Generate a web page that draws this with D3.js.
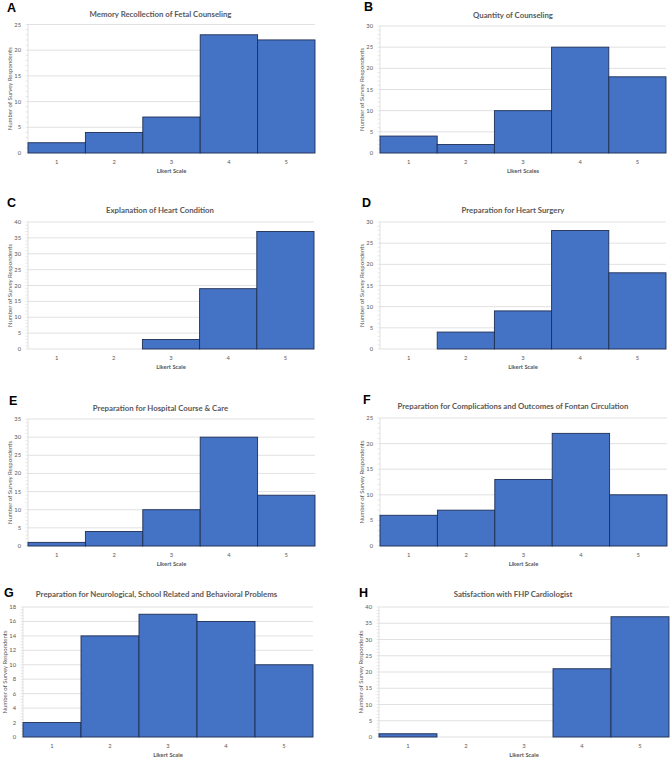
<!DOCTYPE html>
<html>
<head>
<meta charset="utf-8">
<script src="https://cdn.jsdelivr.net/npm/d3@7"></script>
<style>
  html, body { margin: 0; padding: 0; background: #fff; }
  svg { display: block; }
</style>
</head>
<body>
<svg id="chart" width="672" height="759"></svg>
<script>
// ---------- DATA ----------
const categories = ["1", "2", "3", "4", "5"];
const panelLetters = ["A", "B", "C", "D", "E", "F", "G", "H"];
const titles = [
  "Memory Recollection of Fetal Counseling",
  "Quantity of Counseling",
  "Explanation of Heart Condition",
  "Preparation for Heart Surgery",
  "Preparation for Hospital Course & Care",
  "Preparation for Complications and Outcomes of Fontan Circulation",
  "Preparation for Neurological, School Related and Behavioral Problems",
  "Satisfaction with FHP Cardiologist"
];
const xTitles = ["Likert Scale", "Likert Scales", "Likert Scale", "Likert Scale",
                 "Likert Scale", "Likert Scale", "Likert Scale", "Likert Scale"];
const yTitle = "Number of Survey Respondents";
const valuesA = [2, 4, 7, 23, 22];
const valuesB = [4, 2, 10, 25, 18];
const valuesC = [0, 0, 3, 19, 37];
const valuesD = [0, 4, 9, 28, 18];
const valuesE = [1, 4, 10, 30, 14];
const valuesF = [6, 7, 13, 22, 10];
const valuesG = [2, 14, 17, 16, 10];
const valuesH = [1, 0, 0, 21, 37];
const yMaxes = [25, 30, 40, 30, 35, 25, 18, 40];
const yTickSteps = [5, 5, 5, 5, 5, 5, 2, 5];

const allValues = [valuesA, valuesB, valuesC, valuesD, valuesE, valuesF, valuesG, valuesH];

// ---------- LAYOUT ----------
const layout = [
  { x0: 28,  x1: 315, y0: 24.5, y1: 153, lx: 7,   ly: 12,  tx: 160.5, ty: 17 },
  { x0: 380, x1: 666, y0: 26,   y1: 153, lx: 364, ly: 11,  tx: 513,   ty: 18 },
  { x0: 28,  x1: 314, y0: 222,  y1: 349, lx: 7,   ly: 207, tx: 160,   ty: 213 },
  { x0: 380, x1: 666, y0: 222,  y1: 349, lx: 362, ly: 207, tx: 513,   ty: 213 },
  { x0: 28,  x1: 315, y0: 419,  y1: 546, lx: 9,   ly: 405, tx: 160.5, ty: 411 },
  { x0: 380, x1: 667, y0: 418,  y1: 546, lx: 363, ly: 404, tx: 513,   ty: 409 },
  { x0: 23,  x1: 313, y0: 607,  y1: 737, lx: 4,   ly: 597, tx: 156.5, ty: 597 },
  { x0: 379, x1: 669, y0: 607,  y1: 737, lx: 359, ly: 597, tx: 513,   ty: 597 }
];

const svg = d3.select("#chart");
const gray = "#595959";
const gridCol = "#d9d9d9";
const barFill = "#4472C4";
const barStroke = "#1f2f55";
const font = "Lato, 'Open Sans', sans-serif";

allValues.forEach((vals, i) => {
  const L = layout[i];
  const g = svg.append("g");
  const x = d3.scaleBand().domain(categories).range([L.x0, L.x1]).padding(0);
  const y = d3.scaleLinear().domain([0, yMaxes[i]]).range([L.y1, L.y0]);
  const majors = d3.range(0, yMaxes[i] + 0.001, yTickSteps[i]);
  const minorStep = yTickSteps[i] / 5;
  const minors = d3.range(0, yMaxes[i] + 0.001, minorStep);

  // gridlines
  g.selectAll("line.grid").data(majors.filter(d => d > 0)).join("line")
    .attr("x1", L.x0).attr("x2", L.x1)
    .attr("y1", d => y(d)).attr("y2", d => y(d))
    .attr("stroke", gridCol).attr("stroke-width", 0.8);

  // y axis line + minor ticks
  g.append("line").attr("x1", L.x0).attr("x2", L.x0)
    .attr("y1", L.y0).attr("y2", L.y1)
    .attr("stroke", gridCol).attr("stroke-width", 0.8);
  g.selectAll("line.minor").data(minors).join("line")
    .attr("x1", L.x0 - 2.5).attr("x2", L.x0)
    .attr("y1", d => y(d)).attr("y2", d => y(d))
    .attr("stroke", gridCol).attr("stroke-width", 0.6);

  // x axis line
  g.append("line").attr("x1", L.x0).attr("x2", L.x1)
    .attr("y1", L.y1).attr("y2", L.y1)
    .attr("stroke", gridCol).attr("stroke-width", 0.8);

  // bars
  g.selectAll("rect.bar").data(vals.map((v, k) => ({ c: categories[k], v })).filter(d => d.v > 0))
    .join("rect")
    .attr("x", d => x(d.c)).attr("width", x.bandwidth())
    .attr("y", d => y(d.v)).attr("height", d => y(0) - y(d.v))
    .attr("fill", barFill).attr("stroke", barStroke).attr("stroke-width", 0.9);

  // y tick labels
  g.selectAll("text.ytick").data(majors).join("text")
    .attr("x", L.x0 - 7).attr("y", d => y(d))
    .attr("dy", "0.35em")
    .attr("text-anchor", "end")
    .attr("font-family", font).attr("font-size", 5.8)
    .attr("fill", gray)
    .text(d => d);

  // x tick labels
  g.selectAll("text.xtick").data(categories).join("text")
    .attr("x", d => x(d) + x.bandwidth() / 2).attr("y", L.y1 + 11)
    .attr("text-anchor", "middle")
    .attr("font-family", font).attr("font-size", 5.8)
    .attr("fill", gray)
    .text(d => d);

  // x axis title
  g.append("text")
    .attr("x", (L.x0 + L.x1) / 2).attr("y", L.y1 + 20)
    .attr("text-anchor", "middle")
    .attr("font-family", font).attr("font-size", 5.8)
    .attr("font-weight", "bold")
    .attr("fill", gray)
    .text(xTitles[i]);

  // y axis title
  g.append("text")
    .attr("transform", `translate(${L.x0 - 16},${(L.y0 + L.y1) / 2}) rotate(-90)`)
    .attr("text-anchor", "middle")
    .attr("font-family", font).attr("font-size", 6)
    .attr("fill", gray)
    .text(yTitle);

  // chart title
  g.append("text")
    .attr("x", L.tx).attr("y", L.ty)
    .attr("text-anchor", "middle")
    .attr("font-family", font).attr("font-size", 7.8)
    .attr("font-weight", "bold")
    .attr("fill", gray)
    .text(titles[i]);

  // panel letter
  g.append("text")
    .attr("x", L.lx).attr("y", L.ly)
    .attr("font-family", "'Liberation Sans', Arial, sans-serif")
    .attr("font-size", 12.5)
    .attr("font-weight", "bold")
    .attr("fill", "#000")
    .text(panelLetters[i]);
});
</script>
</body>
</html>
